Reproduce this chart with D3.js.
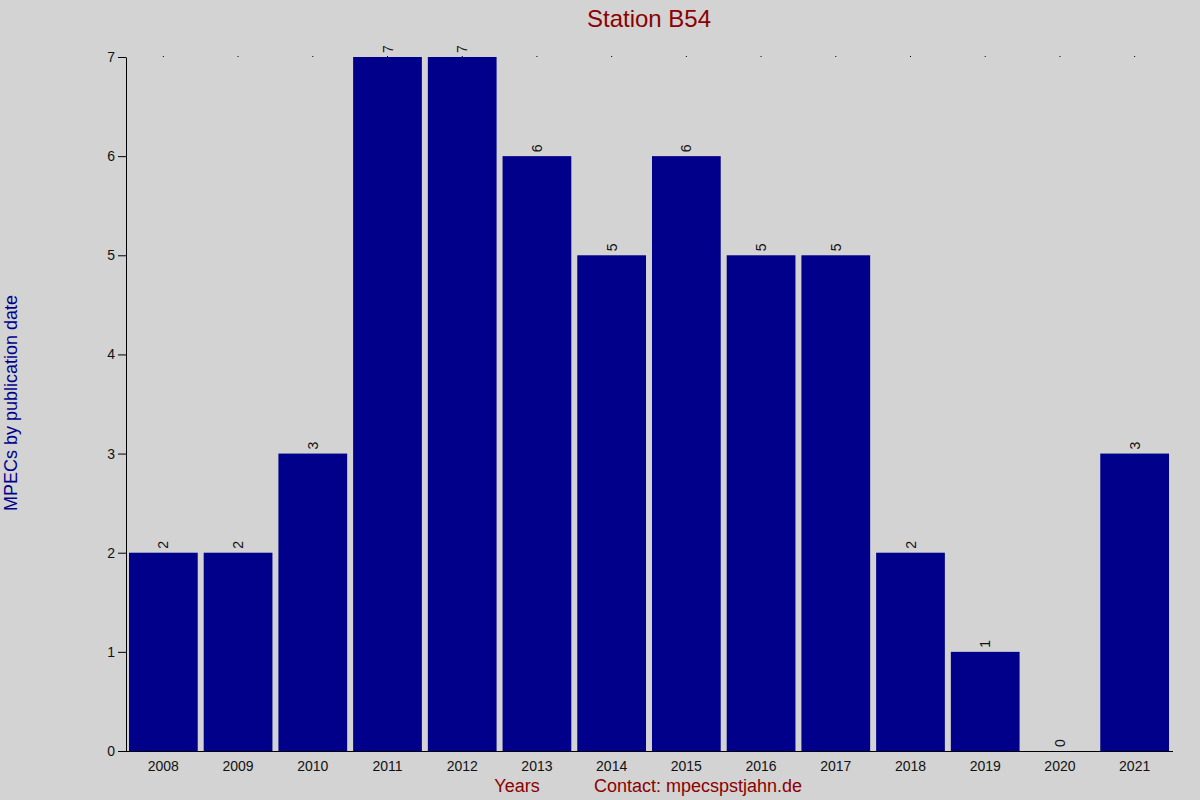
<!DOCTYPE html>
<html>
<head>
<meta charset="utf-8">
<script src="https://cdn.jsdelivr.net/npm/d3@7"></script>
<style>
  body { margin: 0; background: #d3d3d3; }
  text { font-family: "Liberation Sans", Arial, sans-serif; }
</style>
</head>
<body>
<svg id="chart" width="1200" height="800"></svg>
<script>
var years = ["2008", "2009", "2010", "2011", "2012", "2013", "2014", "2015", "2016", "2017", "2018", "2019", "2020", "2021"];
var counts = [2, 2, 3, 7, 7, 6, 5, 6, 5, 5, 2, 1, 0, 3];
var yTicks = [0, 1, 2, 3, 4, 5, 6, 7];

(function () {
  var svg = d3.select("#chart");
  var plotLeft = 126, plotRight = 1172, plotTop = 57, plotBottom = 751;

  var x = d3.scaleBand().domain(years).range([plotLeft, plotRight]).paddingInner(0.08).paddingOuter(0.04);
  var y = d3.scaleLinear().domain([0, 7]).range([plotBottom, plotTop]);

  svg.append("rect").attr("width", 1200).attr("height", 800).attr("fill", "#d3d3d3");

  // bars
  svg.selectAll(".bar").data(years).enter().append("rect")
    .attr("x", function (d) { return x(d); })
    .attr("width", x.bandwidth())
    .attr("y", function (d, i) { return y(counts[i]); })
    .attr("height", function (d, i) { return plotBottom - y(counts[i]); })
    .attr("fill", "#00008b");

  // value labels, rotated
  svg.selectAll(".val").data(years).enter().append("text")
    .attr("transform", function (d, i) {
      return "translate(" + (x(d) + x.bandwidth() / 2 + 5) + "," + (y(counts[i]) - 4) + ") rotate(-90)";
    })
    .attr("font-size", 14).attr("fill", "#111")
    .text(function (d, i) { return counts[i]; });

  // top dots at band centers
  svg.selectAll(".dot").data(years).enter().append("rect")
    .attr("x", function (d) { return x(d) + x.bandwidth() / 2 - 0.5; })
    .attr("y", plotTop - 1).attr("width", 1).attr("height", 1).attr("fill", "#000");

  // y axis
  var yAxis = svg.append("g").attr("transform", "translate(" + plotLeft + ",0)")
    .call(d3.axisLeft(y).tickValues(yTicks).tickSize(8).tickSizeOuter(0).tickFormat(d3.format("d")));
  yAxis.selectAll("text").attr("font-size", 14).attr("fill", "#111").attr("font-family", "Liberation Sans, Arial, sans-serif");
  yAxis.selectAll("line, path").attr("stroke", "#000");

  // x axis
  svg.append("line").attr("x1", plotLeft - 8).attr("x2", plotRight + 1)
    .attr("y1", plotBottom + 0.5).attr("y2", plotBottom + 0.5).attr("stroke", "#000");
  svg.selectAll(".xl").data(years).enter().append("text")
    .attr("x", function (d) { return x(d) + x.bandwidth() / 2; })
    .attr("y", plotBottom + 20).attr("text-anchor", "middle")
    .attr("font-size", 14).attr("fill", "#111").text(function (d) { return d; });

  // titles
  svg.append("text").attr("x", 649).attr("y", 27).attr("text-anchor", "middle")
    .attr("font-size", 24).attr("fill", "#8b0000").text("Station B54");
  svg.append("text").attr("x", 517).attr("y", 792).attr("text-anchor", "middle")
    .attr("font-size", 18).attr("fill", "#8b0000").text("Years");
  svg.append("text").attr("x", 698).attr("y", 792).attr("text-anchor", "middle")
    .attr("font-size", 18).attr("fill", "#8b0000").text("Contact: mpecspstjahn.de");
  svg.append("text").attr("transform", "translate(17,403) rotate(-90)").attr("text-anchor", "middle")
    .attr("font-size", 18).attr("fill", "#00008b").text("MPECs by publication date");
}());
</script>
</body>
</html>
